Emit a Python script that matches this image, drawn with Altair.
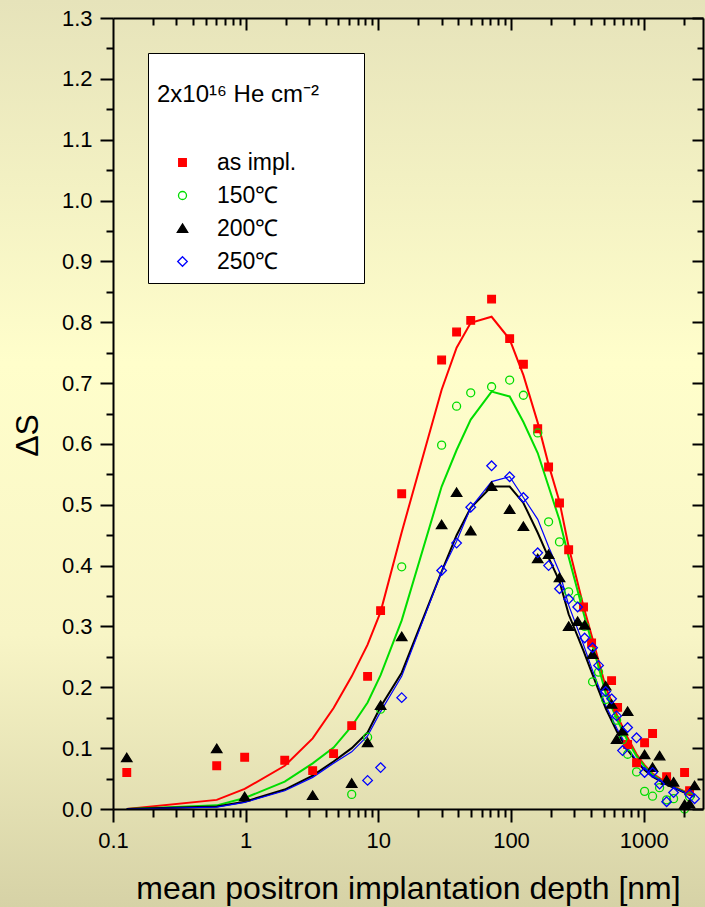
import altair as alt
import pandas as pd

# ---------------- data ----------------
series_names = ["as impl.", "150℃", "200℃", "250℃"]

x_red = [0.127, 0.605, 0.983, 1.97, 3.2, 4.6, 6.3, 8.3, 10.4, 15.0, 30.0, 38.9, 49.7, 71.4, 97.7,
         124, 159, 192, 232, 272, 352, 405, 573, 636, 757, 884, 1016, 1167, 1489, 2034, 2218]
y_red = [0.060, 0.071, 0.085, 0.080, 0.063, 0.091, 0.137, 0.218, 0.326, 0.518, 0.738, 0.784, 0.803, 0.838, 0.773,
         0.731, 0.625, 0.562, 0.503, 0.426, 0.332, 0.273, 0.211, 0.167, 0.106, 0.076, 0.109, 0.124, 0.053, 0.060, 0.030]

x_green = [6.3, 8.3, 10.4, 15.0, 30.0, 38.9, 49.7, 71.4, 97.7, 124, 159, 192, 232, 272, 318, 359, 412, 457,
           517, 625, 693, 757, 884, 1016, 1167, 1318, 1489, 1680, 2034, 2218]
y_green = [0.024, 0.118, 0.164, 0.398, 0.598, 0.662, 0.684, 0.694, 0.705, 0.680, 0.618, 0.472, 0.439, 0.357, 0.346, 0.300, 0.209, 0.225,
           0.180, 0.146, 0.114, 0.090, 0.061, 0.029, 0.021, 0.035, 0.015, 0.017, 0.000, 0.020]

x_black = [0.127, 0.605, 0.983, 3.2, 6.3, 8.3, 10.4, 15.0, 30.0, 38.9, 49.7, 71.4, 97.7, 124, 159, 192, 232,
           272, 318, 359, 412, 517, 573, 625, 693, 757, 1016, 1167, 1318, 1489, 1680, 2034, 2218, 2420]
y_black = [0.084, 0.099, 0.020, 0.022, 0.042, 0.109, 0.170, 0.283, 0.467, 0.520, 0.457, 0.530, 0.492, 0.464, 0.411, 0.418, 0.380,
           0.300, 0.308, 0.302, 0.254, 0.202, 0.172, 0.114, 0.128, 0.160, 0.089, 0.068, 0.087, 0.047, 0.044, 0.007, 0.008, 0.038]

x_blue = [8.3, 10.4, 15.0, 30.0, 38.9, 49.7, 71.4, 97.7, 124, 159, 192, 232, 272, 318, 359, 412, 457, 517,
          573, 625, 693, 757, 884, 1016, 1167, 1318, 1489, 1680, 2218, 2420]
y_blue = [0.047, 0.068, 0.183, 0.392, 0.437, 0.496, 0.564, 0.546, 0.512, 0.421, 0.400, 0.362, 0.345, 0.332, 0.281, 0.265, 0.236, 0.193,
          0.181, 0.153, 0.096, 0.134, 0.117, 0.060, 0.060, 0.041, 0.012, 0.027, 0.024, 0.017]

# fitted curves (common depth grid)
fit_x = [0.127, 0.605, 0.983, 1.97, 3.2, 4.6, 6.3, 8.3, 10.4, 15.0, 30.0, 38.9, 49.7, 71.4, 97.7, 124, 159, 192,
         232, 272, 352, 405, 518, 636, 757, 884, 1016, 1167, 1489, 2034, 2420]
fit_red = [0.0, 0.015, 0.033, 0.071, 0.116, 0.166, 0.218, 0.270, 0.324, 0.455, 0.689, 0.758, 0.799, 0.809, 0.772, 0.713, 0.635, 0.566,
           0.505, 0.431, 0.333, 0.285, 0.200, 0.152, 0.117, 0.090, 0.072, 0.058, 0.043, 0.029, 0.022]
fit_green = [0.0, 0.006, 0.018, 0.045, 0.075, 0.101, 0.136, 0.175, 0.220, 0.310, 0.530, 0.590, 0.640, 0.686, 0.678, 0.636, 0.585, 0.530,
             0.475, 0.414, 0.322, 0.275, 0.190, 0.145, 0.112, 0.087, 0.070, 0.056, 0.041, 0.028, 0.021]
fit_black = [0.0, 0.004, 0.012, 0.032, 0.055, 0.078, 0.100, 0.126, 0.168, 0.224, 0.390, 0.450, 0.495, 0.530, 0.530, 0.503, 0.454, 0.413,
             0.374, 0.320, 0.260, 0.225, 0.165, 0.125, 0.097, 0.078, 0.064, 0.053, 0.040, 0.027, 0.020]
fit_blue = [0.0, 0.003, 0.011, 0.030, 0.052, 0.075, 0.094, 0.120, 0.160, 0.218, 0.390, 0.440, 0.495, 0.538, 0.546, 0.512, 0.476, 0.431,
            0.389, 0.335, 0.270, 0.232, 0.170, 0.130, 0.100, 0.080, 0.066, 0.054, 0.041, 0.027, 0.020]

# axis tick values
x_major = [0.1, 1, 10, 100, 1000]
x_major_top = [1, 10, 100, 1000]
x_minor = [0.2, 0.3, 0.4, 0.5, 0.6, 0.7, 0.8, 0.9, 2, 3, 4, 5, 6, 7, 8, 9, 20, 30, 40, 50, 60, 70, 80, 90,
           200, 300, 400, 500, 600, 700, 800, 900, 2000]
y_major = [0.0, 0.1, 0.2, 0.3, 0.4, 0.5, 0.6, 0.7, 0.8, 0.9, 1.0, 1.1, 1.2, 1.3]
y_minor = [0.05, 0.15, 0.25, 0.35, 0.45, 0.55, 0.65, 0.75, 0.85, 0.95, 1.05, 1.15, 1.25]

colors = ["#ff0000", "#00dd00", "#000000", "#0000ff"]
fills = ["#ff0000", "transparent", "#000000", "transparent"]
# marker outlines in unit coordinates (square, circle, triangle, diamond)
shapes = [
    "M-0.95,-0.95L0.95,-0.95L0.95,0.95L-0.95,0.95Z",
    "M1,0A1,1,0,1,1,-1,0A1,1,0,1,1,1,0Z",
    "M0,-1.15L1.3,0.95L-1.3,0.95Z",
    "M0,-1.2L1.2,0L0,1.2L-1.2,0Z",
]
MARKER_SIZE = 64

# ---------------- tables ----------------
pts = pd.concat([
    pd.DataFrame({"x": x_red, "y": y_red, "series": series_names[0]}),
    pd.DataFrame({"x": x_green, "y": y_green, "series": series_names[1]}),
    pd.DataFrame({"x": x_black, "y": y_black, "series": series_names[2]}),
    pd.DataFrame({"x": x_blue, "y": y_blue, "series": series_names[3]}),
], ignore_index=True)

fits = pd.concat([
    pd.DataFrame({"x": fit_x, "y": fit_red, "series": series_names[0]}),
    pd.DataFrame({"x": fit_x, "y": fit_green, "series": series_names[1]}),
    pd.DataFrame({"x": fit_x, "y": fit_black, "series": series_names[2]}),
    pd.DataFrame({"x": fit_x, "y": fit_blue, "series": series_names[3]}),
], ignore_index=True)

W, H = 590, 791
PAD = {"left": 113, "top": 18, "right": 2, "bottom": 98}
FONT = "Liberation Sans"

xscale = alt.Scale(type="log", domain=[0.1, 2800], nice=False)
yscale = alt.Scale(domain=[0, 1.3], nice=False, zero=False)

common = dict(grid=False, tickColor="black", tickWidth=2, domainColor="black", domainWidth=2,
              zindex=1, labelFont=FONT, labelFontSize=22, labelColor="black", labelFlush=False)

# background gradient
bg = alt.Chart(pd.DataFrame({"a": [0]})).mark_rect(
    clip=False,
    color=alt.LinearGradient(
        gradient="linear", x1=0, x2=0, y1=0, y2=1,
        stops=[alt.GradientStop(color="#e6e3ba", offset=0),
               alt.GradientStop(color="#fffecb", offset=0.4),
               alt.GradientStop(color="#f8f5c6", offset=0.7),
               alt.GradientStop(color="#d6d2a6", offset=1)],
    ),
).encode(
    x=alt.value(-PAD["left"]), x2=alt.value(W + PAD["right"]),
    y=alt.value(-PAD["top"]), y2=alt.value(H + PAD["bottom"]),
)

lines = alt.Chart(fits).mark_line().encode(
    x=alt.X("x:Q", scale=xscale, axis=alt.Axis(
        orient="bottom", values=x_major, format="~g", tickSize=13, labelPadding=8,
        title="mean positron implantation depth [nm]", titleFont=FONT, titleFontSize=32,
        titleFontWeight="normal", titleColor="black", titleY=64, **common)),
    y=alt.Y("y:Q", scale=yscale, axis=alt.Axis(
        orient="left", values=y_major, format=".1f", tickSize=13, labelPadding=8,
        title="ΔS", titleFont=FONT, titleFontSize=32, titleFontWeight="normal", titleColor="black",
        titleX=-86, titleY=417, titleAngle=270, titleAlign="center", titleBaseline="middle", **common)),
    color=alt.Color("series:N", scale=alt.Scale(domain=series_names, range=colors), legend=None),
    strokeWidth=alt.condition(alt.datum.series == series_names[3], alt.value(1.2), alt.value(2)),
    detail="series:N",
)

legend_title = ["", "2x10¹⁶ He cm⁻²\u2800\u2800"]


def make_legend():
    return alt.Legend(
        orient="none", legendX=35, legendY=35, fillColor="white", strokeColor="black", zindex=2,
        padding=9, titleFont=FONT, titleFontSize=24, titleFontWeight="normal", titleColor="black",
        titleLineHeight=21, titlePadding=44, titleLimit=400, labelFont=FONT, labelFontSize=23,
        labelColor="black", labelOffset=23, symbolOffset=14, rowPadding=9, symbolStrokeWidth=1.3,
        symbolSize=MARKER_SIZE,
    )


points = alt.Chart(pts).mark_point(opacity=1, strokeWidth=1.3, size=MARKER_SIZE).encode(
    x=alt.X("x:Q", scale=xscale, axis=alt.Axis(
        orient="bottom", values=x_minor, tickSize=8, labels=False, domain=False, title=None, **common)),
    y=alt.Y("y:Q", scale=yscale, axis=alt.Axis(
        orient="left", values=y_minor, tickSize=7, labels=False, domain=False, title=None, **common)),
    shape=alt.Shape("series:N", scale=alt.Scale(domain=series_names, range=shapes), title=legend_title, legend=make_legend()),
    stroke=alt.Stroke("series:N", scale=alt.Scale(domain=series_names, range=colors), title=legend_title, legend=make_legend()),
    fill=alt.Fill("series:N", scale=alt.Scale(domain=series_names, range=fills), title=legend_title, legend=make_legend()),
)

frame_major = alt.Chart(pts).mark_point(opacity=0).encode(
    x=alt.X("x:Q", scale=xscale, axis=alt.Axis(
        orient="bottom", offset=-H, values=x_major_top, tickSize=12, labels=False, title=None, **common)),
    y=alt.Y("y:Q", scale=yscale, axis=alt.Axis(
        orient="left", offset=-W, values=y_major, tickSize=11, labels=False, title=None, **common)),
)

frame_minor = alt.Chart(pts).mark_point(opacity=0).encode(
    x=alt.X("x:Q", scale=xscale, axis=alt.Axis(
        orient="bottom", offset=-H, values=x_minor, tickSize=7, labels=False, domain=False, title=None, **common)),
    y=alt.Y("y:Q", scale=yscale, axis=alt.Axis(
        orient="left", offset=-W, values=y_minor, tickSize=6, labels=False, domain=False, title=None, **common)),
)

chart = alt.layer(bg, lines, points, frame_major, frame_minor).resolve_axis(
    x="independent", y="independent"
).resolve_scale(color="independent").properties(
    width=W, height=H, autosize=alt.AutoSizeParams(type="none"), padding=PAD,
).configure(background="#f8f5c6").configure_view(stroke=None)

chart.save("out.html", embed_options={"renderer": "svg", "actions": False})
